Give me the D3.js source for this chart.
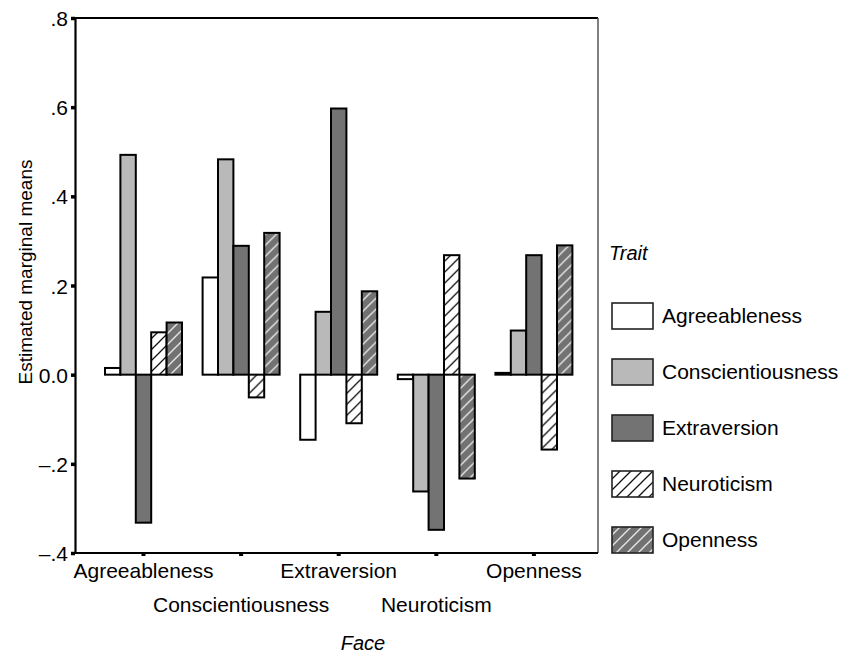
<!DOCTYPE html>
<html>
<head>
<meta charset="utf-8">
<script src="https://cdn.jsdelivr.net/npm/d3@7"></script>
<style>
  body { margin: 0; background: #fff; }
  text { font-family: "Liberation Sans", Arial, sans-serif; fill: #000; }
</style>
</head>
<body>
<svg id="chart" width="842" height="654"></svg>
<script>

// faces shown on the x axis
var faces = ["Agreeableness", "Conscientiousness", "Extraversion", "Neuroticism", "Openness"];
var traits = ["Agreeableness", "Conscientiousness", "Extraversion", "Neuroticism", "Openness"];

// estimated marginal means, one array per trait, in face order
var agreeableness     = [0.015, 0.218, -0.146, -0.010, 0.004];
var conscientiousness = [0.493, 0.483, 0.141, -0.262, 0.099];
var extraversion      = [-0.332, 0.289, 0.597, -0.348, 0.268];
var neuroticism       = [0.095, -0.051, -0.109, 0.268, -0.168];
var openness          = [0.117, 0.318, 0.187, -0.233, 0.290];

var yTicks = [-0.4, -0.2, 0, 0.2, 0.4, 0.6, 0.8];
var yTickLabels = ["\u2013.4", "\u2013.2", "0.0", ".2", ".4", ".6", ".8"];

var series = [agreeableness, conscientiousness, extraversion, neuroticism, openness];

var svg = d3.select("#chart");

var plotLeft = 75, plotRight = 598, plotTop = 18, plotBottom = 553;

var x = d3.scaleBand().domain(faces).range([94.7, 582.7]);
var xInner = d3.scaleBand().domain(traits).range([0, 77]);
var y = d3.scaleLinear().domain([-0.4, 0.8]).range([plotBottom, plotTop]);

// hatch patterns
var defs = svg.append("defs");

function hatch(id, bg, lineColor, lineWidth) {
    var p = defs.append("pattern")
        .attr("id", id)
        .attr("patternUnits", "userSpaceOnUse")
        .attr("width", 11)
        .attr("height", 11);
    p.append("rect").attr("width", 11).attr("height", 11).attr("fill", bg);
    p.append("path")
        .attr("d", "M-2,13 L13,-2 M-5,5 L5,-5 M6,16 L16,6")
        .attr("stroke", lineColor)
        .attr("stroke-width", lineWidth);
}
hatch("hatchN", "#ffffff", "#111", 1.3);
hatch("hatchO", "#727272", "#e6e6e6", 1.4);

var fills = {
    "Agreeableness": "#ffffff",
    "Conscientiousness": "#b9b9b9",
    "Extraversion": "#737373",
    "Neuroticism": "url(#hatchN)",
    "Openness": "url(#hatchO)"
};

// frame
svg.append("path")
    .attr("d", "M" + plotLeft + "," + plotTop + "H" + plotRight)
    .attr("stroke", "#000").attr("stroke-width", 2).attr("fill", "none");
svg.append("path")
    .attr("d", "M" + plotRight + "," + plotTop + "V" + plotBottom)
    .attr("stroke", "#555").attr("stroke-width", 1.5).attr("fill", "none");

// bars
var groups = svg.append("g").selectAll("g.face")
    .data(faces)
    .enter()
    .append("g")
    .attr("class", "face")
    .attr("transform", function (d) {
        return "translate(" + (x(d) + x.bandwidth() / 2 - 38.5) + ",0)";
    });

groups.selectAll("rect")
    .data(function (d, i) {
        return traits.map(function (t, j) {
            return {trait: t, value: series[j][i]};
        });
    })
    .enter()
    .append("rect")
    .attr("x", function (d) { return xInner(d.trait); })
    .attr("width", xInner.bandwidth())
    .attr("y", function (d) { return y(Math.max(0, d.value)); })
    .attr("height", function (d) { return Math.abs(y(d.value) - y(0)); })
    .attr("fill", function (d) { return fills[d.trait]; })
    .attr("stroke", "#000")
    .attr("stroke-width", 2);

// y axis
var yAxis = svg.append("g")
    .attr("transform", "translate(" + plotLeft + ",0)")
    .call(d3.axisLeft(y)
        .tickValues(yTicks)
        .tickFormat(function (d, i) { return yTickLabels[i]; })
        .tickSizeInner(4)
        .tickSizeOuter(0)
        .tickPadding(3));
yAxis.select(".domain").attr("stroke", "#000").attr("stroke-width", 2.2);
yAxis.selectAll(".tick line").attr("stroke", "#000").attr("stroke-width", 3.5);
yAxis.selectAll(".tick text")
    .attr("font-size", 21)
    .attr("font-family", "Liberation Sans, Arial, sans-serif")
    .attr("fill", "#000")
    .attr("dy", "0.36em");

// x axis
var xAxis = svg.append("g")
    .attr("transform", "translate(0," + plotBottom + ")")
    .call(d3.axisBottom(x).tickSizeInner(3).tickSizeOuter(0).tickPadding(4));
xAxis.select(".domain")
    .attr("d", "M" + (plotLeft - 1) + ",0H" + plotRight)
    .attr("stroke", "#000").attr("stroke-width", 2.2);
xAxis.selectAll(".tick line").attr("stroke", "#000").attr("stroke-width", 4);
xAxis.selectAll(".tick text")
    .attr("font-size", 21)
    .attr("font-family", "Liberation Sans, Arial, sans-serif")
    .attr("fill", "#000")
    .attr("dy", null)
    .attr("y", function (d, i) { return i % 2 ? 59 : 25; });

// axis titles
svg.append("text")
    .attr("transform", "translate(32,272) rotate(-90)")
    .attr("text-anchor", "middle")
    .attr("font-size", 19)
    .text("Estimated marginal means");

svg.append("text")
    .attr("x", 363)
    .attr("y", 650)
    .attr("text-anchor", "middle")
    .attr("font-size", 20)
    .attr("font-style", "italic")
    .text("Face");

// legend
var legend = svg.append("g").attr("transform", "translate(609,0)");
legend.append("text")
    .attr("x", 0)
    .attr("y", 260)
    .attr("font-size", 20)
    .attr("font-style", "italic")
    .text("Trait");

var items = legend.selectAll("g.item")
    .data(traits)
    .enter()
    .append("g")
    .attr("class", "item")
    .attr("transform", function (d, i) { return "translate(0," + (303 + i * 56) + ")"; });

items.append("rect")
    .attr("x", 3)
    .attr("width", 41)
    .attr("height", 26)
    .attr("fill", function (d) { return fills[d]; })
    .attr("stroke", "#222")
    .attr("stroke-width", 1.6);

items.append("text")
    .attr("x", 53)
    .attr("y", 20)
    .attr("font-size", 21)
    .text(function (d) { return d; });

</script>
</body>
</html>
